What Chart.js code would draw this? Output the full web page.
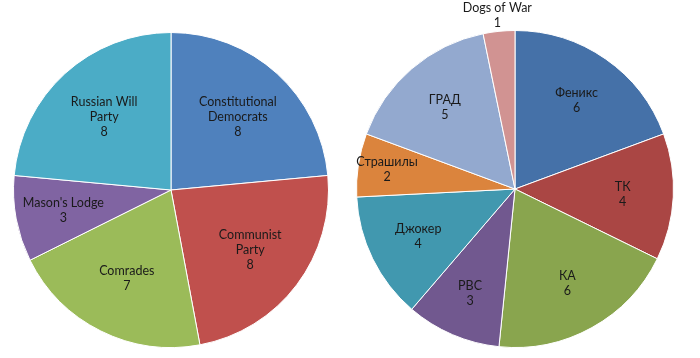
<!DOCTYPE html>
<html>
<head>
<meta charset="utf-8">
<script src="https://cdn.jsdelivr.net/npm/chart.js@4"></script>
<style>
  html, body { margin: 0; padding: 0; background: #fff; }
  .wrap { position: absolute; top: 0; height: 358px; }
  #left-wrap { left: 0; width: 340px; }
  #right-wrap { left: 330px; width: 370px; }
</style>
</head>
<body>
<div class="wrap" id="left-wrap"><canvas id="left-chart"></canvas></div>
<div class="wrap" id="right-wrap"><canvas id="right-chart"></canvas></div>
<script>
// Данные — левая диаграмма
const leftCategories = [['Constitutional', 'Democrats'], ['Communist', 'Party'], ['Comrades'], ["Mason's Lodge"], ['Russian Will', 'Party']];
const leftValues = [8, 8, 7, 3, 8];
const leftColors = ['#4F81BD', '#C0504D', '#9BBB59', '#8064A2', '#4BACC6'];

// Данные — правая диаграмма
const rightCategories = ['Феникс', 'ТК', 'КА', 'РВС', 'Джокер', 'Страшилы', 'ГРАД', 'Dogs of War'];
const rightValues = [6, 4, 6, 3, 4, 2, 5, 1];
const rightColors = ['#4571A8', '#AA4644', '#89A54E', '#71588F', '#4198AF', '#DB843D', '#93A9CF', '#D19392'];

const FONT = '12.5px Lato, "Liberation Sans", sans-serif';
const LINE_H = 15;

// Подписи внутри секторов (узкие секторы — дальше от центра, совсем маленькие — снаружи)
function sliceLabels(ratio) {
    return {
        id: 'sliceLabels',
        afterDatasetsDraw(chart) {
            const ctx = chart.ctx;
            const meta = chart.getDatasetMeta(0);
            const data = chart.data.datasets[0].data;
            const total = data.reduce((s, v) => s + v, 0);
            ctx.save();
            ctx.font = FONT;
            ctx.fillStyle = '#1a1a1a';
            ctx.textAlign = 'center';
            ctx.textBaseline = 'middle';
            meta.data.forEach((arc, i) => {
                const p = arc.getProps(['x', 'y', 'startAngle', 'endAngle', 'outerRadius'], true);
                const mid = (p.startAngle + p.endAngle) / 2;
                const frac = data[i] / total;
                const r = frac < 0.05
                    ? p.outerRadius + 16
                    : p.outerRadius * (ratio + Math.max(0, 0.11 - frac) * 3);
                const cx = p.x + Math.cos(mid) * r;
                const cy = p.y + Math.sin(mid) * r;
                let lines = chart.data.labels[i];
                lines = Array.isArray(lines) ? lines.slice() : [lines];
                lines.push(String(data[i]));
                const top = cy - (lines.length - 1) * LINE_H / 2;
                lines.forEach((t, k) => ctx.fillText(t, cx, top + k * LINE_H));
            });
            ctx.restore();
        }
    };
}

function makePie(id, labels, values, colors, padding, ratio) {
    new Chart(document.getElementById(id), {
        type: 'pie',
        data: {
            labels: labels,
            datasets: [{
                data: values,
                backgroundColor: colors,
                borderColor: '#ffffff',
                borderWidth: 1
            }]
        },
        options: {
            responsive: true,
            maintainAspectRatio: false,
            animation: false,
            layout: { padding: padding },
            plugins: {
                legend: { display: false },
                tooltip: { enabled: false }
            }
        },
        plugins: [sliceLabels(ratio)]
    });
}

makePie('left-chart', leftCategories, leftValues, leftColors,
    { left: 13, right: 11, top: 32, bottom: 10 }, 0.63);
makePie('right-chart', rightCategories, rightValues, rightColors,
    { left: 25, right: 25, top: 30, bottom: 10 }, 0.68);
</script>
</body>
</html>
